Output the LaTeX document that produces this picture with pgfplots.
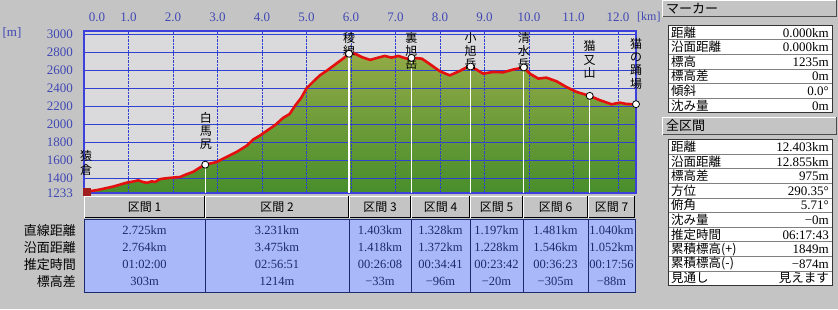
\documentclass[border=0pt]{standalone}
\usepackage{fontspec}
\setmainfont{Liberation Serif}
\newfontfamily\jp{Noto Sans CJK JP}
\usepackage{pgfplots}
\pgfplotsset{compat=1.18}
\definecolor{bggray}{RGB}{196,196,196}
\definecolor{plotgray}{RGB}{218,218,220}
\definecolor{btngray}{RGB}{196,196,196}
\definecolor{axisblue}{RGB}{60,64,220}
\definecolor{gridblue}{RGB}{48,64,208}
\definecolor{tickblue}{RGB}{64,72,180}
\definecolor{curvered}{RGB}{228,16,16}
\definecolor{fillTop}{RGB}{146,170,70}
\definecolor{fillBot}{RGB}{72,142,44}
\definecolor{tblue}{RGB}{168,184,248}
\definecolor{tnavy}{RGB}{30,40,110}
\definecolor{hiker}{RGB}{160,30,30}
\tikzset{vlab/.style={anchor=north, align=center, inner sep=0pt, font=\jp\fontsize{12}{13.3}\selectfont}}
\pgfplotsset{prof/.style={
  at={(84pt,-193pt)}, anchor=south west,
  scale only axis, width=552pt, height=162pt,
  xmin=0, xmax=12.405, ymin=1233, ymax=3033}}
\begin{document}
\begin{tikzpicture}
\path[use as bounding box, fill=bggray] (0pt,0pt) rectangle (838pt,-309pt);
% layer 1: background and filled profile
\begin{axis}[prof, axis background/.style={fill=plotgray},
  axis line style={draw=none}, xtick=\empty, ytick=\empty]
\addplot[draw=none, top color=fillTop, bottom color=fillBot, forget plot] coordinates {
(0,1233) (0,1238) (0.13,1252) (0.36,1272) (0.66,1305) (0.96,1348) (1.10,1360)
(1.22,1374) (1.32,1356) (1.41,1346) (1.52,1362) (1.60,1356) (1.71,1388)
(1.90,1400) (2.16,1411) (2.30,1440) (2.46,1470) (2.60,1515) (2.725,1548)
(2.98,1577) (3.20,1633) (3.43,1689) (3.66,1760) (3.81,1830) (3.95,1870)
(4.11,1925) (4.30,1990) (4.48,2070) (4.62,2110) (4.74,2200) (4.88,2290)
(5.00,2395) (5.15,2470) (5.30,2540) (5.45,2590) (5.60,2645) (5.75,2700)
(5.85,2737) (5.956,2780) (6.09,2781) (6.24,2744) (6.43,2712) (6.61,2737)
(6.76,2756) (6.91,2737) (7.06,2756) (7.25,2726) (7.359,2735) (7.59,2726)
(7.70,2690) (7.81,2652) (8.00,2585) (8.22,2540) (8.45,2590) (8.60,2630)
(8.687,2638) (8.82,2604) (8.97,2559) (9.19,2578) (9.42,2574) (9.64,2604)
(9.884,2628) (10.02,2559) (10.21,2504) (10.39,2515) (10.62,2474) (10.84,2411)
(11.07,2356) (11.365,2312) (11.60,2263) (11.86,2219) (12.04,2237) (12.19,2222)
(12.405,2220) (12.405,1233)} \closedcycle;
\end{axis}
% layer 2: grid, curve, markers
\begin{axis}[prof, clip=false,
  axis line style={draw=axisblue, line width=1.5pt},
  xtick={1,2,3,4,5,6,7,8,9,10,11,12},
  xticklabels={1.0,2.0,3.0,4.0,5.0,6.0,7.0,8.0,9.0,10.0,11.0,12.0},
  extra x ticks={0.29}, extra x tick labels={0.0},
  extra x tick style={grid=none},
  xticklabel pos=upper,
  xticklabel style={anchor=base, inner sep=0pt, yshift=10pt},
  ytick={1233,1400,1600,1800,2000,2200,2400,2600,2800,3000},
  yticklabels={1233,1400,1600,1800,2000,2200,2400,2600,2800,3000},
  yticklabel style={anchor=east, inner sep=0pt, xshift=-11pt},
  tick style={draw=none}, major tick length=0pt,
  xmajorgrids, ymajorgrids,
  x grid style={densely dotted, gridblue, line width=0.8pt},
  y grid style={gridblue, line width=0.8pt},
  ticklabel style={font=\fontsize{13}{15}\selectfont, text=tickblue},
]
\addplot[white, line width=1.3pt, forget plot] coordinates {(2.725,1233) (2.725,1548)};
\addplot[white, line width=1.3pt, forget plot] coordinates {(5.956,1233) (5.956,2780)};
\addplot[white, line width=1.3pt, forget plot] coordinates {(7.359,1233) (7.359,2735)};
\addplot[white, line width=1.3pt, forget plot] coordinates {(8.687,1233) (8.687,2638)};
\addplot[white, line width=1.3pt, forget plot] coordinates {(9.884,1233) (9.884,2628)};
\addplot[white, line width=1.3pt, forget plot] coordinates {(11.365,1233) (11.365,2312)};
\addplot[draw=curvered, line width=2.6pt, line join=round, forget plot] coordinates {
(0,1238) (0.13,1252) (0.36,1272) (0.66,1305) (0.96,1348) (1.10,1360)
(1.22,1374) (1.32,1356) (1.41,1346) (1.52,1362) (1.60,1356) (1.71,1388)
(1.90,1400) (2.16,1411) (2.30,1440) (2.46,1470) (2.60,1515) (2.725,1548)
(2.98,1577) (3.20,1633) (3.43,1689) (3.66,1760) (3.81,1830) (3.95,1870)
(4.11,1925) (4.30,1990) (4.48,2070) (4.62,2110) (4.74,2200) (4.88,2290)
(5.00,2395) (5.15,2470) (5.30,2540) (5.45,2590) (5.60,2645) (5.75,2700)
(5.85,2737) (5.956,2780) (6.09,2781) (6.24,2744) (6.43,2712) (6.61,2737)
(6.76,2756) (6.91,2737) (7.06,2756) (7.25,2726) (7.359,2735) (7.59,2726)
(7.70,2690) (7.81,2652) (8.00,2585) (8.22,2540) (8.45,2590) (8.60,2630)
(8.687,2638) (8.82,2604) (8.97,2559) (9.19,2578) (9.42,2574) (9.64,2604)
(9.884,2628) (10.02,2559) (10.21,2504) (10.39,2515) (10.62,2474) (10.84,2411)
(11.07,2356) (11.365,2312) (11.60,2263) (11.86,2219) (12.04,2237) (12.19,2222)
(12.405,2220)};
\addplot[only marks, mark=*, mark size=3.5pt, mark options={fill=white, draw=black, line width=0.8pt}, forget plot] coordinates {
(2.725,1548) (5.956,2780) (7.359,2735) (8.687,2638) (9.884,2628) (11.365,2312) (12.405,2220)};
\addplot[only marks, mark=square*, mark size=3.5pt, color=hiker, forget plot] coordinates {(0.05,1250)};
\node[vlab] at (axis cs:0.05,1705) {猿\\倉};
\node[vlab] at (axis cs:2.74,2133) {白\\馬\\尻};
\node[vlab] at (axis cs:5.956,3022) {稜\\線};
\node[vlab] at (axis cs:7.359,3022) {裏\\旭\\岳};
\node[vlab] at (axis cs:8.687,3022) {小\\旭\\岳};
\node[vlab] at (axis cs:9.884,3022) {清\\水\\岳};
\node[vlab] at (axis cs:11.365,2927) {猫\\又\\山};
\node[vlab] at (axis cs:12.405,2955) {猫\\の\\踊\\場};
\end{axis}
\begin{scope}[x=1pt, y=-1pt]
\node[text=tickblue, font=\fontsize{13}{15}\selectfont] at (12,33) {[m]};
\node[text=tickblue, font=\fontsize{12}{14}\selectfont, anchor=west, inner sep=0pt] at (637,17) {[km]};
% bottom table
\fill[tblue] (84,219) rectangle (635,292);
\foreach \a/\b/\n in {84/205/1, 205/349/2, 349/411/3, 411/470/4, 470/523/5, 523/588/6, 588/635/7} {
  \fill[btngray] (\a,196) rectangle (\b,218);
  \draw[white, line width=1pt] (\a+0.5,218) -- (\a+0.5,196.5) -- (\b-1,196.5);
  \draw[black, line width=1pt] (\a+1,217.5) -- (\b-0.5,217.5) -- (\b-0.5,196);
  \node[font=\jp\fontsize{12}{14}\selectfont, text=black] at ({(\a+\b)/2},207) {区間 \n};
  \draw[tnavy, line width=0.9pt] (\b,219) -- (\b,292);
}
\draw[tnavy, line width=1pt] (84,219) rectangle (635,292);
\foreach \cx/\va/\vb/\vc/\vd in {144.5/2.725km/2.764km/01:02:00/303m, 277/3.231km/3.475km/02:56:51/1214m, 380/1.403km/1.418km/00:26:08/−33m, 440.5/1.328km/1.372km/00:34:41/−96m, 496.5/1.197km/1.228km/00:23:42/−20m, 555.5/1.481km/1.546km/00:36:23/−305m, 611.5/1.040km/1.052km/00:17:56/−88m} {
  \begin{scope}[every node/.style={text=tnavy, font=\fontsize{12.5}{14}\selectfont, inner sep=0pt}]
  \node at (\cx,230) {\va};
  \node at (\cx,247) {\vb};
  \node at (\cx,264) {\vc};
  \node at (\cx,281) {\vd};
  \end{scope}
}
\begin{scope}[every node/.style={anchor=east, inner sep=0pt, font=\jp\fontsize{13}{15}\selectfont, text=black}]
\node at (76,231) {直線距離};
\node at (76,248) {沿面距離};
\node at (76,265) {推定時間};
\node at (76,282) {標高差};
\end{scope}
% right panel: marker
\fill[btngray] (662,0) rectangle (837,17);
\draw[white, line width=1pt] (662.5,17) -- (662.5,0.5) -- (837,0.5);
\draw[black!70, line width=1pt] (663,16.5) -- (836.5,16.5) -- (836.5,0);
\node[anchor=west, inner sep=0pt, font=\jp\fontsize{13}{15}\selectfont] at (666,9) {マーカー};
\fill[white] (668,25) rectangle (832,112.6);
\foreach \i in {1,...,5} { \draw[gray, line width=0.6pt] (668,25+14.6*\i) -- (832,25+14.6*\i); }
\draw[black!80, line width=1pt] (668,25) rectangle (832,112.6);
\foreach \i/\l/\v in {0/距離/0.000km, 1/沿面距離/0.000km, 2/標高/1235m, 3/標高差/0m, 4/傾斜/0.0°, 5/沈み量/0m} {
  \node[anchor=west, inner sep=0pt, font=\jp\fontsize{12.5}{14}\selectfont] at (671,25+14.6*\i+7.3) {\l};
  \node[anchor=east, inner sep=0pt, font=\fontsize{13}{14}\selectfont] at (829,25+14.6*\i+7.8) {\v};
}
% right panel: full section
\fill[btngray] (662,117) rectangle (837,135);
\draw[white, line width=1pt] (662.5,135) -- (662.5,117.5) -- (837,117.5);
\draw[black!70, line width=1pt] (663,134.5) -- (836.5,134.5) -- (836.5,117);
\node[anchor=west, inner sep=0pt, font=\jp\fontsize{13}{15}\selectfont] at (666,126) {全区間};
\fill[white] (668,139.5) rectangle (832,285.5);
\foreach \i in {1,...,9} { \draw[gray, line width=0.6pt] (668,139.5+14.6*\i) -- (832,139.5+14.6*\i); }
\draw[black!80, line width=1pt] (668,139.5) rectangle (832,285.5);
\foreach \i/\l/\v in {0/距離/12.403km, 1/沿面距離/12.855km, 2/標高差/975m, 3/方位/290.35°, 4/俯角/5.71°, 5/沈み量/−0m, 6/推定時間/06:17:43, 7/累積標高(+)/1849m, 8/累積標高(-)/−874m} {
  \node[anchor=west, inner sep=0pt, font=\jp\fontsize{12.5}{14}\selectfont] at (671,139.5+14.6*\i+7.3) {\l};
  \node[anchor=east, inner sep=0pt, font=\fontsize{13}{14}\selectfont] at (829,139.5+14.6*\i+7.8) {\v};
}
\node[anchor=west, inner sep=0pt, font=\jp\fontsize{12.5}{14}\selectfont] at (671,139.5+14.6*9+7.3) {見通し};
\node[anchor=east, inner sep=0pt, font=\jp\fontsize{12.5}{14}\selectfont] at (829,139.5+14.6*9+7.3) {見えます};
\end{scope}
\end{tikzpicture}
\end{document}
